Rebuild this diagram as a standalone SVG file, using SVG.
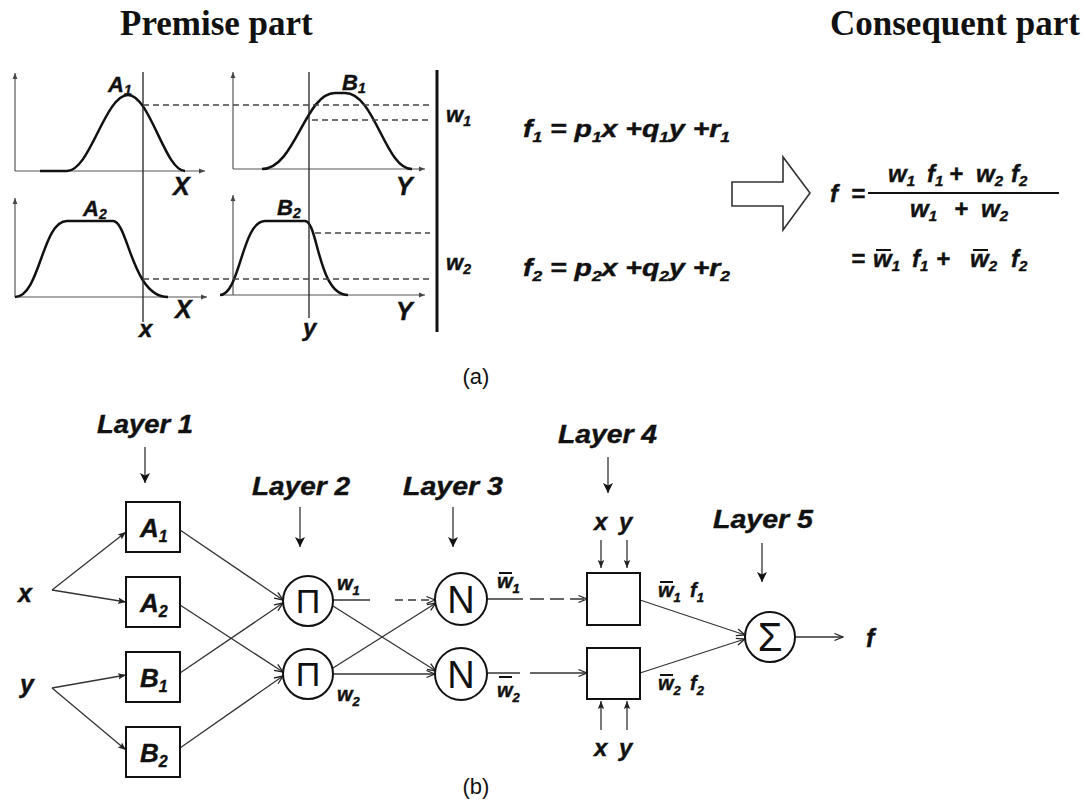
<svg xmlns="http://www.w3.org/2000/svg" width="1086" height="801" viewBox="0 0 1086 801">
<style>
.hdr{font-family:"Liberation Serif","Times New Roman",serif;font-weight:bold;font-size:35px;fill:#111}
.lbl{font-family:"Liberation Sans",Arial,sans-serif;font-weight:bold;font-style:italic;fill:#111;stroke:#111;stroke-width:0.4}
.cap{font-family:"Liberation Sans",Arial,sans-serif;font-size:22px;fill:#111}
.sym{font-family:"Liberation Sans",Arial,sans-serif;text-anchor:middle;fill:#111}
.axis{stroke:#555;stroke-width:1.2;fill:none}
.curve{stroke:#111;stroke-width:2.5;fill:none}
.dash{stroke:#444;stroke-width:1.6;stroke-dasharray:6 4;fill:none}
.vline{stroke:#222;stroke-width:1.3;fill:none}
.node{fill:#fff;stroke:#111;stroke-width:2}
.conn{stroke:#333;stroke-width:1.3;fill:none}
.bar{stroke:#111;stroke-width:2}
</style>
<defs>
<marker id="open" viewBox="0 0 10 10" refX="9.5" refY="5" markerWidth="10" markerHeight="10" markerUnits="userSpaceOnUse" orient="auto"><path d="M1,1.5 L9.5,5 L1,8.5" fill="none" stroke="#222" stroke-width="1.3"/></marker>
<marker id="solid" viewBox="0 0 10 12" refX="10" refY="6" markerWidth="10" markerHeight="12" markerUnits="userSpaceOnUse" orient="auto"><path d="M0,1 L10,6 L0,11 L2.5,6 z" fill="#111"/></marker>
<marker id="small" viewBox="0 0 10 10" refX="10" refY="5" markerWidth="8" markerHeight="8" markerUnits="userSpaceOnUse" orient="auto"><path d="M0,1 L10,5 L0,9 L2,5 z" fill="#222"/></marker>
<marker id="tiny" viewBox="0 0 10 10" refX="10" refY="5" markerWidth="6" markerHeight="6" markerUnits="userSpaceOnUse" orient="auto"><path d="M0,1 L10,5 L0,9 z" fill="#444"/></marker>
</defs>
<rect width="1086" height="801" fill="#fff"/>

<!-- Headers -->
<text class="hdr" x="120" y="35">Premise part</text>
<text class="hdr" x="830" y="35">Consequent part</text>

<!-- (a) membership functions -->
<g id="premise-plots">
  <path class="axis" d="M15,171 L15,73" marker-end="url(#tiny)"/>
  <path class="axis" d="M15,171 L205,171" marker-end="url(#tiny)"/>
  <path class="axis" d="M233,169 L233,72" marker-end="url(#tiny)"/>
  <path class="axis" d="M233,169 L425,169" marker-end="url(#tiny)"/>
  <path class="axis" d="M15,297 L15,198" marker-end="url(#tiny)"/>
  <path class="axis" d="M15,297 L207,297" marker-end="url(#tiny)"/>
  <path class="axis" d="M233,295 L233,195" marker-end="url(#tiny)"/>
  <path class="axis" d="M220,295 L425,295" marker-end="url(#tiny)"/>

  <path class="curve" d="M40,171 L67,171 C90,171 105,95 128,95 C150,95 165,171 185,171"/>
  <path class="curve" d="M262,169 C295,169 305,93 335,93 L345,93 C375,93 385,169 412,169"/>
  <path class="curve" d="M15,297 C40,297 42,221 67,221 L113,221 C128,221 132,297 168,297"/>
  <path class="curve" d="M220,295 C240,295 242,221 265,221 L305,221 C318,221 318,295 348,295"/>

  <line class="vline" x1="143" y1="72" x2="143" y2="322"/>
  <line class="vline" x1="309" y1="72" x2="309" y2="318"/>
  <line x1="437" y1="70" x2="437" y2="332" stroke="#111" stroke-width="3"/>

  <line class="dash" x1="143" y1="105" x2="430" y2="105"/>
  <line class="dash" x1="312" y1="120" x2="430" y2="120"/>
  <line class="dash" x1="315" y1="233" x2="430" y2="233"/>
  <line class="dash" x1="143" y1="279" x2="430" y2="279"/>

  <text class="lbl" x="108" y="92" font-size="22">A<tspan font-size="14" dy="3">1</tspan></text>
  <text class="lbl" x="342" y="90" font-size="22">B<tspan font-size="14" dy="3">1</tspan></text>
  <text class="lbl" x="83" y="216" font-size="22">A<tspan font-size="14" dy="3">2</tspan></text>
  <text class="lbl" x="277" y="215" font-size="22">B<tspan font-size="14" dy="3">2</tspan></text>
  <text class="lbl" x="173" y="195" font-size="25">X</text>
  <text class="lbl" x="396" y="195" font-size="25">Y</text>
  <text class="lbl" x="175" y="318" font-size="25">X</text>
  <text class="lbl" x="396" y="320" font-size="25">Y</text>
  <text class="lbl" x="139" y="337" font-size="24">x</text>
  <text class="lbl" x="303" y="336" font-size="24">y</text>
  <text class="lbl" x="446" y="122" font-size="22">w<tspan font-size="14" dy="4">1</tspan></text>
  <text class="lbl" x="446" y="270" font-size="22">w<tspan font-size="14" dy="4">2</tspan></text>
</g>

<!-- rule formulas -->
<g id="rules">
  <text class="lbl" x="523" y="137" font-size="23" textLength="207" lengthAdjust="spacingAndGlyphs">f<tspan font-size="14" dy="5">1</tspan><tspan dy="-5"> = p</tspan><tspan font-size="14" dy="5">1</tspan><tspan dy="-5">x +q</tspan><tspan font-size="14" dy="5">1</tspan><tspan dy="-5">y +r</tspan><tspan font-size="14" dy="5">1</tspan></text>
  <text class="lbl" x="523" y="276" font-size="23" textLength="207" lengthAdjust="spacingAndGlyphs">f<tspan font-size="14" dy="5">2</tspan><tspan dy="-5"> = p</tspan><tspan font-size="14" dy="5">2</tspan><tspan dy="-5">x +q</tspan><tspan font-size="14" dy="5">2</tspan><tspan dy="-5">y +r</tspan><tspan font-size="14" dy="5">2</tspan></text>
</g>

<!-- big hollow arrow -->
<path id="implies" d="M732,182 L783,182 L783,157 L810,193 L783,230 L783,206 L732,206 Z" fill="#fff" stroke="#333" stroke-width="1.6"/>

<!-- consequent formula -->
<g id="consequent">
  <text class="lbl" x="830" y="202" font-size="24">f</text>
  <text class="lbl" x="851" y="202" font-size="24">=</text>
  <line x1="868" y1="193" x2="1059" y2="193" stroke="#111" stroke-width="2"/>
  <text class="lbl" x="888" y="182" font-size="24">w<tspan font-size="15" dy="4">1</tspan></text>
  <text class="lbl" x="927" y="182" font-size="24">f<tspan font-size="15" dy="4">1</tspan></text>
  <text class="lbl" x="949" y="182" font-size="24">+</text>
  <text class="lbl" x="976" y="182" font-size="24">w<tspan font-size="15" dy="4">2</tspan></text>
  <text class="lbl" x="1011" y="182" font-size="24">f<tspan font-size="15" dy="4">2</tspan></text>
  <text class="lbl" x="910" y="217" font-size="24">w<tspan font-size="15" dy="4">1</tspan></text>
  <text class="lbl" x="954" y="217" font-size="24">+</text>
  <text class="lbl" x="981" y="217" font-size="24">w<tspan font-size="15" dy="4">2</tspan></text>
  <text class="lbl" x="851" y="267" font-size="24">=</text>
  <line class="bar" x1="876" y1="250" x2="891" y2="250"/>
  <text class="lbl" x="873" y="267" font-size="24">w<tspan font-size="15" dy="4">1</tspan></text>
  <text class="lbl" x="912" y="267" font-size="24">f<tspan font-size="15" dy="4">1</tspan></text>
  <text class="lbl" x="936" y="267" font-size="24">+</text>
  <line class="bar" x1="973" y1="250" x2="988" y2="250"/>
  <text class="lbl" x="970" y="267" font-size="24">w<tspan font-size="15" dy="4">2</tspan></text>
  <text class="lbl" x="1011" y="267" font-size="24">f<tspan font-size="15" dy="4">2</tspan></text>
</g>

<text class="cap" x="476" y="384" text-anchor="middle">(a)</text>

<!-- (b) network: connectors -->
<g id="connectors">
  <path class="conn" d="M52,590 L126,532" marker-end="url(#small)"/>
  <path class="conn" d="M52,590 L126,602" marker-end="url(#small)"/>
  <path class="conn" d="M52,688 L126,675" marker-end="url(#small)"/>
  <path class="conn" d="M52,688 L126,750" marker-end="url(#small)"/>
  <path class="conn" d="M180,530 L283,600" marker-end="url(#open)"/>
  <path class="conn" d="M180,673 L283,603" marker-end="url(#open)"/>
  <path class="conn" d="M180,605 L283,672" marker-end="url(#open)"/>
  <path class="conn" d="M180,748 L283,676" marker-end="url(#open)"/>
  <path class="conn" d="M333,600 L370,600"/>
  <path class="conn" d="M395,600 L435,600" stroke-dasharray="8 5" marker-end="url(#open)"/>
  <path class="conn" d="M333,606 L436,671" marker-end="url(#open)"/>
  <path class="conn" d="M333,668 L436,603" marker-end="url(#open)"/>
  <path class="conn" d="M333,674 L435,674" marker-end="url(#open)"/>
  <path class="conn" d="M487,599 L523,599"/>
  <path class="conn" d="M530,599 L587,599" stroke-dasharray="14 6" marker-end="url(#open)"/>
  <path class="conn" d="M487,673 L520,673"/>
  <path class="conn" d="M530,673 L587,673" marker-end="url(#open)"/>
  <path class="conn" d="M640,600 L745,635" marker-end="url(#open)"/>
  <path class="conn" d="M640,673 L745,639" marker-end="url(#open)"/>
  <path class="conn" d="M795,637 L843,637" marker-end="url(#open)"/>
  <path class="conn" d="M601,540 L601,568" marker-end="url(#small)"/>
  <path class="conn" d="M627,540 L627,568" marker-end="url(#small)"/>
  <path class="conn" d="M601,730 L601,701" marker-end="url(#small)"/>
  <path class="conn" d="M627,730 L627,701" marker-end="url(#small)"/>
  <path class="conn" d="M145,447 L145,483" marker-end="url(#solid)"/>
  <path class="conn" d="M300,507 L300,547" marker-end="url(#solid)"/>
  <path class="conn" d="M453,507 L453,547" marker-end="url(#solid)"/>
  <path class="conn" d="M608,457 L608,493" marker-end="url(#solid)"/>
  <path class="conn" d="M762,543 L762,582" marker-end="url(#solid)"/>
</g>

<!-- layer labels -->
<g id="layer-labels">
  <text class="lbl" x="97" y="433" font-size="25" textLength="96" lengthAdjust="spacingAndGlyphs">Layer 1</text>
  <text class="lbl" x="252" y="495" font-size="25" textLength="98" lengthAdjust="spacingAndGlyphs">Layer 2</text>
  <text class="lbl" x="403" y="495" font-size="25" textLength="100" lengthAdjust="spacingAndGlyphs">Layer 3</text>
  <text class="lbl" x="558" y="443" font-size="25" textLength="99" lengthAdjust="spacingAndGlyphs">Layer 4</text>
  <text class="lbl" x="713" y="528" font-size="25" textLength="100" lengthAdjust="spacingAndGlyphs">Layer 5</text>
</g>

<!-- inputs -->
<g id="input-x"><text class="lbl" x="18" y="602" font-size="25">x</text></g>
<g id="input-y"><text class="lbl" x="20" y="693" font-size="25">y</text></g>

<!-- layer 1 -->
<g id="node-A1"><rect class="node" x="126" y="502" width="54" height="50"/><text class="lbl" x="140" y="537" font-size="26">A<tspan font-size="16" dy="5">1</tspan></text></g>
<g id="node-A2"><rect class="node" x="126" y="577" width="54" height="50"/><text class="lbl" x="140" y="612" font-size="26">A<tspan font-size="16" dy="5">2</tspan></text></g>
<g id="node-B1"><rect class="node" x="126" y="652" width="54" height="50"/><text class="lbl" x="140" y="687" font-size="26">B<tspan font-size="16" dy="5">1</tspan></text></g>
<g id="node-B2"><rect class="node" x="126" y="727" width="54" height="50"/><text class="lbl" x="140" y="762" font-size="26">B<tspan font-size="16" dy="5">2</tspan></text></g>

<!-- layer 2 -->
<g id="node-pi1"><circle class="node" cx="308" cy="601" r="25"/><text class="sym" x="308" y="613" font-size="34">Π</text></g>
<g id="node-pi2"><circle class="node" cx="308" cy="674" r="25"/><text class="sym" x="308" y="686" font-size="34">Π</text></g>
<text class="lbl" x="337" y="590" font-size="20">w<tspan font-size="13" dy="5">1</tspan></text>
<text class="lbl" x="337" y="701" font-size="20">w<tspan font-size="13" dy="5">2</tspan></text>

<!-- layer 3 -->
<g id="node-n1"><circle class="node" cx="461" cy="599" r="26"/><text class="sym" x="461" y="613" font-size="38">N</text></g>
<g id="node-n2"><circle class="node" cx="461" cy="674" r="26"/><text class="sym" x="461" y="688" font-size="38">N</text></g>
<line class="bar" x1="499" y1="573" x2="512" y2="573"/>
<text class="lbl" x="497" y="588" font-size="20">w<tspan font-size="13" dy="5">1</tspan></text>
<line class="bar" x1="499" y1="677" x2="512" y2="677"/>
<text class="lbl" x="497" y="697" font-size="20">w<tspan font-size="13" dy="5">2</tspan></text>

<!-- layer 4 -->
<g id="node-L4a"><rect class="node" x="587" y="573" width="53" height="52"/></g>
<g id="node-L4b"><rect class="node" x="587" y="648" width="53" height="51"/></g>
<text class="lbl" x="594" y="530" font-size="24">x</text>
<text class="lbl" x="619" y="530" font-size="24">y</text>
<text class="lbl" x="594" y="756" font-size="24">x</text>
<text class="lbl" x="619" y="756" font-size="24">y</text>
<line class="bar" x1="660" y1="582" x2="673" y2="582"/>
<text class="lbl" x="658" y="597" font-size="20">w<tspan font-size="13" dy="5">1</tspan></text>
<text class="lbl" x="690" y="597" font-size="20">f<tspan font-size="13" dy="5">1</tspan></text>
<line class="bar" x1="660" y1="675" x2="673" y2="675"/>
<text class="lbl" x="658" y="690" font-size="20">w<tspan font-size="13" dy="5">2</tspan></text>
<text class="lbl" x="690" y="690" font-size="20">f<tspan font-size="13" dy="5">2</tspan></text>

<!-- layer 5 -->
<g id="node-sigma"><circle class="node" cx="770" cy="637" r="25"/><text class="sym" x="770" y="651" font-size="40">Σ</text></g>
<g id="output-f"><text class="lbl" x="866" y="647" font-size="25">f</text></g>

<text class="cap" x="476" y="794" text-anchor="middle">(b)</text>
</svg>
